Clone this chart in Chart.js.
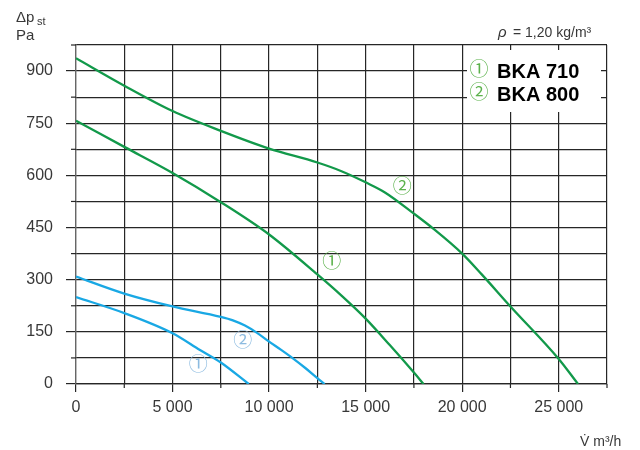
<!DOCTYPE html>
<html><head><meta charset="utf-8">
<script src="https://cdn.jsdelivr.net/npm/chart.js@4/dist/chart.umd.min.js"></script>
<style>html,body{margin:0;padding:0;background:#fff}#w{width:640px;height:450px}</style>
</head><body><div id="w"><canvas id="c" width="640" height="450"></canvas></div>
<script>
// Data
const flow710Green = [0, 2500, 5000, 7500, 10000, 12500, 13750, 15000, 16250, 17500, 18000];
const dp710Green   = [757, 682, 607, 523, 430, 315, 254, 188, 112, 33, 0];
const flow800Green = [0, 2500, 5000, 7500, 10000, 12500, 13750, 15000, 16000, 17500, 18500, 20000, 21000, 22500, 25000, 26000];
const dp800Green   = [937, 858, 785, 728, 677, 637, 612, 580, 551, 490, 447, 375, 316, 223, 72, 0];
const flow710Blue  = [0, 2500, 5000, 6420, 7500, 8950];
const dp710Blue    = [250, 204, 146, 98, 62, 0];
const flow800Blue  = [0, 2500, 5000, 7500, 8125, 8750, 9375, 10000, 10625, 11250, 11875, 12500, 12880];
const dp800Blue    = [309, 260, 223, 193, 183, 168, 147, 122, 98, 73, 46, 17, 0];
const curveLabels  = [
  {text: '\u2460', x: 13250, y: 348, color: '#5cb24c'},
  {text: '\u2461', x: 16900, y: 564, color: '#5cb24c'},
  {text: '\u2460', x: 6330,  y: 52,  color: '#8cbbe0'},
  {text: '\u2461', x: 8630,  y: 121, color: '#8cbbe0'}
];
const legendItems = [['\u2460', 'BKA 710'], ['\u2461', 'BKA 800']];
const yMin = 0, yMax = 975, yStep = 75, yLabelEvery = 150;
const xMin = 0, xMax = 27500, xStep = 2500, xLabelEvery = 5000;

const GREEN = '#12994a', BLUE = '#19a8e4', GRID = '#262626', TXT = '#383838';
const FONT = '"Liberation Sans", Arial, sans-serif';
const CIRC = '"Liberation Sans", "Noto Sans CJK JP", sans-serif';
const pts = (xs, ys) => xs.map((x, i) => ({x, y: ys[i]}));
const fmt = v => v >= 1000 ? Math.floor(v/1000) + ' ' + String(v%1000).padStart(3,'0') : String(v);

const ds = (xs, ys, c) => ({data: pts(xs, ys), borderColor: c, borderWidth: 2.3, pointRadius: 0,
  fill: false, cubicInterpolationMode: 'monotone'});

const deco = {
  id: 'deco',
  beforeDatasetsDraw(chart) {
    const ctx = chart.ctx, x = chart.scales.x, y = chart.scales.y;
    ctx.save();
    ctx.strokeStyle = GRID; ctx.lineWidth = 1.2;
    for (let v = yMin; v <= yMax; v += yStep) {
      if (v % yLabelEvery !== 0) { const py = y.getPixelForValue(v); ctx.beginPath(); ctx.moveTo(x.left - 5, py); ctx.lineTo(x.left, py); ctx.stroke(); }
    }
    for (let v = xMin; v <= xMax; v += xStep) {
      if (v % xLabelEvery !== 0) { const px = x.getPixelForValue(v); ctx.beginPath(); ctx.moveTo(px, y.bottom); ctx.lineTo(px, y.bottom + 4); ctx.stroke(); }
    }
    ctx.fillStyle = '#fff';
    ctx.fillRect(467, 50, 134, 62);
    ctx.restore();
  },
  afterDraw(chart) {
    const ctx = chart.ctx, x = chart.scales.x, y = chart.scales.y;
    ctx.save();
    ctx.textBaseline = 'middle'; ctx.textAlign = 'center';
    ctx.font = '19px ' + CIRC;
    curveLabels.forEach(l => { ctx.fillStyle = l.color; ctx.fillText(l.text, x.getPixelForValue(l.x), y.getPixelForValue(l.y)); });
    legendItems.forEach((it, i) => {
      const cy = 71 + i * 23;
      ctx.textAlign = 'center'; ctx.fillStyle = '#5cb24c'; ctx.font = '19px ' + CIRC;
      ctx.fillText(it[0], 479, cy);
      ctx.textAlign = 'left'; ctx.fillStyle = '#000'; ctx.font = 'bold 20px ' + FONT;
      ctx.fillText(it[1], 497, cy + 1);
    });
    ctx.textBaseline = 'alphabetic'; ctx.textAlign = 'left'; ctx.fillStyle = TXT;
    ctx.font = '15px ' + FONT;
    ctx.fillText('\u0394p', 16, 22);
    ctx.font = '11px ' + FONT; ctx.fillText('st', 37, 25);
    ctx.font = '15px ' + FONT; ctx.fillText('Pa', 16, 40);
    ctx.font = 'italic 15px ' + FONT; ctx.fillText('\u03C1', 498, 37);
    ctx.font = '14px ' + FONT;
    ctx.fillText('= 1,20 kg/m\u00B3', 513, 37);
    ctx.font = '14px ' + FONT;
    ctx.fillText('V\u0307 m\u00B3/h', 580, 446);
    ctx.restore();
  }
};

new Chart(document.getElementById('c'), {
  type: 'line',
  data: {datasets: [ds(flow710Green, dp710Green, GREEN), ds(flow800Green, dp800Green, GREEN),
                    ds(flow710Blue, dp710Blue, BLUE), ds(flow800Blue, dp800Blue, BLUE)]},
  options: {
    responsive: false, animation: false, devicePixelRatio: 1,
    layout: {padding: {left: 0, top: 45, right: 33, bottom: 0}},
    plugins: {legend: {display: false}, tooltip: {enabled: false}},
    scales: {
      x: {type: 'linear', min: xMin, max: xMax,
        afterFit(s) { s.height = 66; },
        afterBuildTicks(s) { const t = []; for (let v = xMin; v <= xMax; v += xStep) t.push({value: v}); s.ticks = t; },
        border: {color: GRID, width: 1.2},
        grid: {color: GRID, lineWidth: 1.2, tickLength: 8,
          tickColor: c => (c.tick && c.tick.value % xLabelEvery === 0) ? GRID : 'rgba(0,0,0,0)'},
        ticks: {autoSkip: false, maxRotation: 0, padding: 6, color: TXT, font: {family: FONT, size: 16},
          callback: v => (v % xLabelEvery === 0 && v < xMax) ? fmt(v) : ''}},
      y: {type: 'linear', min: yMin, max: yMax,
        afterFit(s) { s.width = 76; },
        afterBuildTicks(s) { const t = []; for (let v = yMin; v <= yMax; v += yStep) t.push({value: v}); s.ticks = t; },
        border: {color: '#666', width: 1.2},
        grid: {color: GRID, lineWidth: 1.2, tickLength: 10,
          tickColor: c => (c.tick && c.tick.value % yLabelEvery === 0) ? GRID : 'rgba(0,0,0,0)'},
        ticks: {autoSkip: false, padding: 13, color: TXT, font: {family: FONT, size: 16},
          callback: v => (v % yLabelEvery === 0) ? String(v) : ''}}
    }
  },
  plugins: [deco]
});
</script></body></html>
